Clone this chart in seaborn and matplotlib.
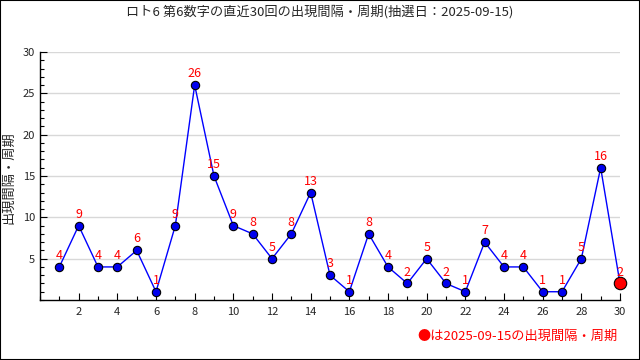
import matplotlib
matplotlib.use("Agg")
import matplotlib.pyplot as plt
import seaborn as sns
import pandas as pd
from matplotlib.ticker import MultipleLocator
from matplotlib.patches import Rectangle

draws = list(range(1, 31))
intervals = [4, 9, 4, 4, 6, 1, 9, 26, 15, 9, 8, 5, 8, 13, 3, 1, 8, 4, 2, 5, 2, 1, 7, 4, 4, 1, 1, 5, 16, 2]
title = "ロト6 第6数字の直近30回の出現間隔・周期(抽選日：2025-09-15)"
ylabel = "出現間隔・周期"
note = "●は2025-09-15の出現間隔・周期"

sns.set_style("white")
plt.rcParams['font.family'] = ['Noto Sans CJK JP', 'DejaVu Sans']

df = pd.DataFrame({"draw": draws, "interval": intervals})

fig = plt.figure(figsize=(6.4, 3.6), dpi=100)
ax = fig.add_axes([40/640, 60/360, 580/640, 248/360])

sns.lineplot(data=df, x="draw", y="interval", ax=ax, color="#0000ff", linewidth=1,
             marker="o", markersize=6, markerfacecolor="#0000ee", markeredgecolor="black",
             markeredgewidth=0.8)
last = df.iloc[[-1]]
sns.scatterplot(data=last, x="draw", y="interval", ax=ax, color="red", s=80,
                edgecolor="black", linewidth=0.8, zorder=5, clip_on=False)

for x, y in zip(draws, intervals):
    ax.text(x, y + 0.6, str(y), color="red", ha="center", va="bottom", fontsize=9)

ax.set_xlim(0, 30)
ax.set_ylim(0, 30)
ax.xaxis.set_minor_locator(MultipleLocator(1))
ax.yaxis.set_minor_locator(MultipleLocator(1))
ax.set_yticks([5, 10, 15, 20, 25, 30])
ax.set_xticks(list(range(2, 31, 2)))
ax.tick_params(axis="both", which="both", bottom=True, left=True, top=False, right=False)
ax.tick_params(axis="both", which="major", direction="in", length=5, width=0.8, labelsize=8, color="black")
ax.tick_params(axis="both", which="minor", direction="in", length=3, width=0.8, color="black")
ax.tick_params(axis="x", pad=5)
ax.yaxis.grid(True, color="#d8d8d8", linewidth=1)
ax.xaxis.grid(False)
ax.set_axisbelow(True)
for s in ["top", "right"]:
    ax.spines[s].set_visible(False)
for s in ["left", "bottom"]:
    ax.spines[s].set_color("black")
    ax.spines[s].set_linewidth(1)

ax.set_xlabel("")
ax.set_ylabel("")
fig.text(9/640, 1 - 178/360, ylabel, rotation=90, ha="center", va="center", fontsize=9.5)

fig.text(0.5, 1 - 12/360, title, ha="center", va="center", fontsize=9.5)
fig.text(618/640, 1 - 336/360, note, ha="right", va="center", fontsize=9.5, color="red")
fig.patches.append(Rectangle((0, 0), 1, 1, transform=fig.transFigure, fill=False,
                             edgecolor="black", linewidth=1.5))

fig.savefig("out.png", dpi=100)
